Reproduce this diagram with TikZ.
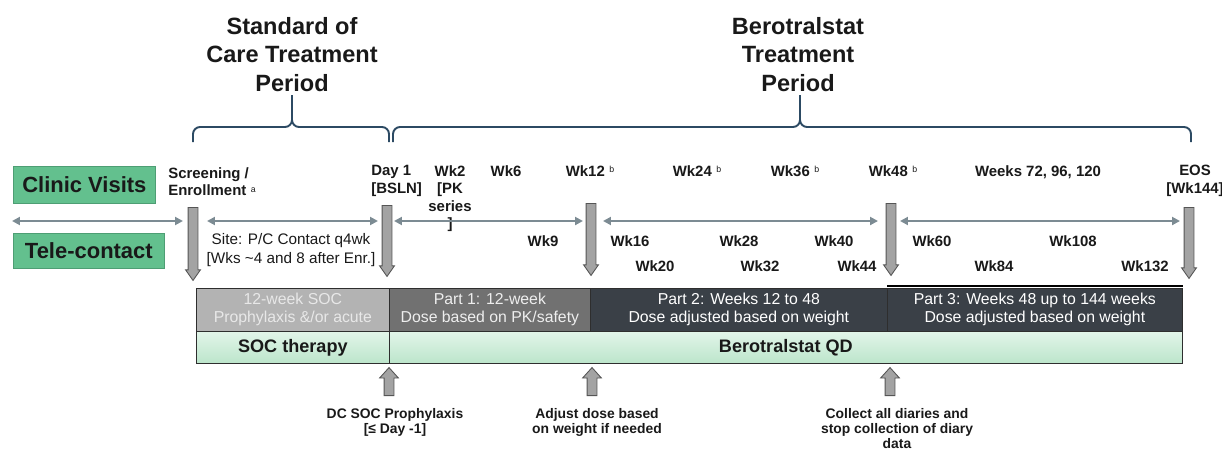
\documentclass[tikz,border=0pt]{standalone}
\usepackage{fontspec}
\setmainfont{Liberation Sans}
\usepackage{tikz}
\usetikzlibrary{arrows.meta,shapes.arrows,positioning}
\newcommand{\pxu}{0.02cm}
\newcommand{\supnote}[1]{\hspace{0.3em}\raisebox{0.45ex}{\mdseries\fontsize{5}{5}\selectfont#1}}
\definecolor{visitgreen}{HTML}{63C08E}
\definecolor{sideedge}{HTML}{4E9E74}
\definecolor{socgrey}{HTML}{B3B3B3}
\definecolor{soctext}{HTML}{E8E8E8}
\definecolor{partone}{HTML}{717171}
\definecolor{parttext}{HTML}{EEEEEE}
\definecolor{partdark}{HTML}{3A4047}
\definecolor{celledge}{HTML}{2E2E2E}
\definecolor{rowtop}{HTML}{E2F5E9}
\definecolor{rowbot}{HTML}{BCE5CB}
\definecolor{arrowgrey}{HTML}{A3A3A3}
\definecolor{arrowedge}{HTML}{555555}
\definecolor{spangrey}{HTML}{7C8B93}
\definecolor{bracecol}{HTML}{2C4A63}

\begin{document}
\begin{tikzpicture}[x=\pxu, y=-\pxu, every node/.style={text=black!90},
  title/.style={font=\bfseries\fontsize{13.4}{16.2}\selectfont, align=center, anchor=north, inner sep=0pt},
  wk/.style={font=\bfseries\fontsize{8.5}{10}\selectfont, align=center, anchor=north, inner sep=0pt},
  note/.style={font=\bfseries\fontsize{7.9}{8.5}\selectfont, align=center, anchor=north, inner sep=0pt},
  site/.style={font=\fontsize{8.7}{10.8}\selectfont, align=center, anchor=north, inner sep=0pt},
  side/.style={draw=sideedge, fill=visitgreen, anchor=north west, inner sep=0pt, font=\bfseries\fontsize{12.5}{14}\selectfont},
  cell/.style={draw=celledge, anchor=north west, align=center, inner sep=0pt, minimum height={43*\pxu}, font=\fontsize{9}{10.2}\selectfont},
  rowcell/.style={draw=celledge, anchor=north west, inner sep=0pt, minimum height={32*\pxu}, top color=rowtop, bottom color=rowbot, font=\bfseries\fontsize{10.3}{12}\selectfont},
  dnarrow/.style={single arrow, draw=arrowedge, fill=arrowgrey, line width=0.5pt, rotate=-90, anchor=tail, inner xsep=0pt, inner ysep={4.5*\pxu}, single arrow head extend={2.5*\pxu}, single arrow tip angle=70},
  uparrow/.style={single arrow, draw=arrowedge, fill=arrowgrey, line width=0.5pt, rotate=90, anchor=tail, inner xsep=0pt, inner ysep={4.5*\pxu}, single arrow head extend={4.5*\pxu}, single arrow tip angle=84, minimum height={28*\pxu}},
  span/.style={draw=spangrey, line width=1.2pt, {Triangle[length=4.5pt,width=4.5pt]}-{Triangle[length=4.5pt,width=4.5pt]}},
  brace/.style={draw=bracecol, line width=1.1pt, rounded corners=4pt}]
\useasboundingbox (0,0) rectangle (1222,453);
\node[title] (soctitle) at (292,17) {Standard of\\Care Treatment\\Period};
\node[title] (berotitle) at (798,17) {Berotralstat\\Treatment\\Period};
\coordinate (socl) at (193,142);
\coordinate (soctip) at (292,95);
\coordinate (socr) at (389,142);
\coordinate (berol) at (393,142);
\coordinate (berotip) at (800,95);
\coordinate (beror) at (1191,142);
\draw[brace] (socl) |- (292,127) -- (soctip);
\draw[brace] (soctip) -- (292,127) -| (socr);
\draw[brace] (berol) |- (800,127) -- (berotip);
\draw[brace] (berotip) -- (800,127) -| (beror);
\node[side, minimum width={142*\pxu}, minimum height={37*\pxu}] (clinic) at (13,166) {Clinic Visits};
\node[side, minimum width={151*\pxu}, minimum height={35*\pxu}] (tele) at (13,233) {Tele-contact};
\node[wk, align=left, anchor=north west] (screen) at (168,167) {Screening /\\Enrollment\supnote{a}};
\node[wk, align=left, anchor=north west] (day1) at (371,165) {Day 1\\{}[BSLN]};
\node[wk] (wk2) at (450,165) {Wk2\\{}[PK\\series\\]};
\node[wk] (wk6) at (506,165) {Wk6};
\node[wk] (wk12) at (590,165) {Wk12\supnote{b}};
\node[wk] (wk24) at (697,165) {Wk24\supnote{b}};
\node[wk] (wk36) at (795,165) {Wk36\supnote{b}};
\node[wk] (wk48) at (893,165) {Wk48\supnote{b}};
\node[wk] (wk72) at (1038,165) {Weeks 72, 96, 120};
\node[wk] (eos) at (1195,165) {EOS\\{}[Wk144]};
\node[site] (sitetxt) at (291,233) {Site: P/C Contact q4wk\\{}[Wks \textasciitilde4 and 8 after Enr.]};
\node[wk] (wk9) at (543,235) {Wk9};
\node[wk] (wk16) at (630,235) {Wk16};
\node[wk] (wk28) at (739,235) {Wk28};
\node[wk] (wk40) at (834,235) {Wk40};
\node[wk] (wk60) at (932,235) {Wk60};
\node[wk] (wk108) at (1073,235) {Wk108};
\node[wk] (wk20) at (655,260) {Wk20};
\node[wk] (wk32) at (760,260) {Wk32};
\node[wk] (wk44) at (857,260) {Wk44};
\node[wk] (wk84) at (994,260) {Wk84};
\node[wk] (wk132) at (1145,260) {Wk132};
\foreach \a/\b [count=\i] in {12/183, 207/378, 394/583, 603/878, 900/1180} {
  \coordinate (seg\i a) at (\a,221);
  \coordinate (seg\i b) at (\b,221);
  \draw[span] (seg\i a) -- (seg\i b);
}
\node[dnarrow, minimum height={73*\pxu}] (scrarr) at (193,207) {};
\node[dnarrow, minimum height={71*\pxu}] (dayarr) at (387,205) {};
\node[dnarrow, minimum height={72*\pxu}] (wk12arr) at (591,203) {};
\node[dnarrow, minimum height={72*\pxu}] (wk48arr) at (891,203) {};
\node[dnarrow, minimum height={71*\pxu}] (eosarr) at (1189,207) {};
\node[cell, minimum width={193*\pxu}, fill=socgrey, text=soctext] (socpart) at (196,288) {12-week SOC\\Prophylaxis \&/or acute};
\node[cell, minimum width={201*\pxu}, fill=partone, text=parttext] (part1) at (389,288) {Part 1: 12-week\\Dose based on PK/safety};
\node[cell, minimum width={297*\pxu}, fill=partdark, text=white] (part2) at (590,288) {Part 2: Weeks 12 to 48\\Dose adjusted based on weight};
\node[cell, minimum width={295*\pxu}, fill=partdark, text=white] (part3) at (887,288) {Part 3: Weeks 48 up to 144 weeks\\Dose adjusted based on weight};
\draw[line width=1.3pt] ([yshift=1pt]part3.north west) -- ([yshift=1pt]part3.north east);
\node[rowcell, minimum width={193*\pxu}] (soctx) at (196,331) {SOC therapy};
\node[rowcell, minimum width={793*\pxu}] (berotx) at (389,331) {Berotralstat QD};
\node[uparrow] (uparr1) at (389,396) {};
\node[uparrow] (uparr2) at (592,396) {};
\node[uparrow] (uparr3) at (890,396) {};
\node[note] (dcsoc) at (395,408) {DC SOC Prophylaxis\\{}[≤ Day -1]};
\node[note] (adjust) at (597,408) {Adjust dose based\\on weight if needed};
\node[note] (collect) at (897,408) {Collect all diaries and\\stop collection of diary\\data};
\end{tikzpicture}
\end{document}
